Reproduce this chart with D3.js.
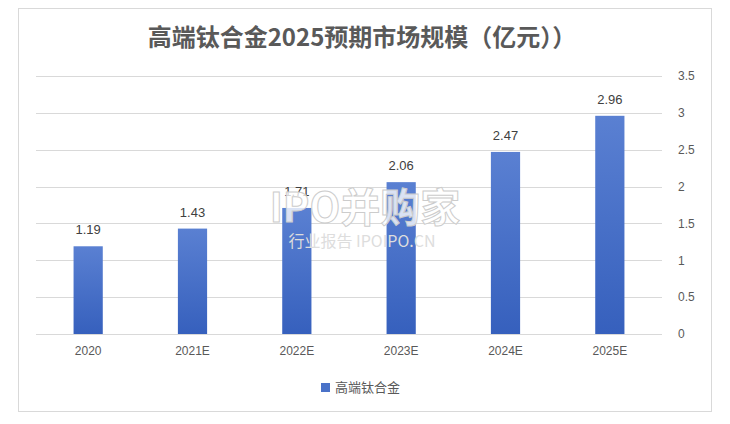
<!DOCTYPE html>
<html><head><meta charset="utf-8">
<script src="https://cdn.jsdelivr.net/npm/d3@7"></script>
<style>body{margin:0;background:#fff;font-family:"Noto Sans CJK SC","Noto Sans",sans-serif;}</style>
</head><body>
<svg id="chart" width="730" height="424"></svg>
<script>
const categories = ["2020", "2021E", "2022E", "2023E", "2024E", "2025E"];
const values = [1.19, 1.43, 1.71, 2.06, 2.47, 2.96];
const yTicks = [0, 0.5, 1, 1.5, 2, 2.5, 3, 3.5];
const seriesName = "高端钛合金";

const svg = d3.select("#chart");
const plotLeft = 36, plotRight = 672, plotTop = 76, plotBottom = 334;

svg.append("rect").attr("x", 18.5).attr("y", 8.5).attr("width", 693).attr("height", 403)
	.attr("fill", "#fff").attr("stroke", "#d9d9d9");

svg.append("text").attr("x", 362).attr("y", 46).attr("text-anchor", "middle")
	.attr("font-size", 24).attr("font-weight", "bold").attr("fill", "#595959")
	.text("高端钛合金2025预期市场规模（亿元））");

const defs = svg.append("defs");
const grad = defs.append("linearGradient").attr("id", "barGrad").attr("x1", 0).attr("y1", 0).attr("x2", 0).attr("y2", 1);
grad.append("stop").attr("offset", "0%").attr("stop-color", "#5a80d2");
grad.append("stop").attr("offset", "100%").attr("stop-color", "#3660bd");

const x = d3.scaleBand().domain(categories).range([plotLeft, plotRight - 10]).paddingInner(0.72).paddingOuter(0.36);
const y = d3.scaleLinear().domain([0, 3.5]).range([plotBottom, plotTop]);

svg.append("g").selectAll("line").data(yTicks).join("line")
	.attr("x1", plotLeft).attr("x2", plotRight - 10)
	.attr("y1", d => Math.round(y(d)) + 0.5).attr("y2", d => Math.round(y(d)) + 0.5)
	.attr("stroke", "#d9d9d9");

const yAxis = svg.append("g").attr("transform", `translate(${plotRight},0)`)
	.call(d3.axisRight(y).tickValues(yTicks).tickFormat(d => String(d)).tickSize(0).tickPadding(6));
yAxis.select(".domain").remove();
yAxis.selectAll("text").attr("font-size", 12).attr("fill", "#595959").attr("font-family", "Liberation Sans, sans-serif");

svg.append("g").selectAll("rect").data(values).join("rect")
	.attr("x", (d, i) => x(categories[i])).attr("width", x.bandwidth())
	.attr("y", d => y(d)).attr("height", d => plotBottom - y(d))
	.attr("fill", "url(#barGrad)");

svg.append("g").selectAll("text").data(values).join("text")
	.attr("x", (d, i) => x(categories[i]) + x.bandwidth() / 2).attr("y", d => y(d) - 12)
	.attr("text-anchor", "middle").attr("font-size", 13).attr("fill", "#404040")
	.attr("font-family", "Liberation Sans, sans-serif").text(d => d.toFixed(2));

const xAxis = svg.append("g").attr("transform", `translate(0,${plotBottom})`)
	.call(d3.axisBottom(x).tickSize(0).tickPadding(12));
xAxis.select(".domain").remove();
xAxis.selectAll("text").attr("font-size", 12).attr("fill", "#595959").attr("font-family", "Liberation Sans, sans-serif");

// watermark
svg.append("text").attr("x", 365).attr("y", 222).attr("text-anchor", "middle")
	.attr("font-size", 40).attr("font-weight", "bold").attr("fill", "#ffffff").attr("fill-opacity", 0.8)
	.attr("stroke", "#cccccc").attr("stroke-width", 1).text("IPO并购家");
svg.append("text").attr("x", 362).attr("y", 247).attr("text-anchor", "middle")
	.attr("font-size", 16).attr("fill", "#dddddd").text("行业报告 IPOIPO.CN");

// legend
svg.append("rect").attr("x", 321).attr("y", 383).attr("width", 9).attr("height", 9).attr("fill", "#4a72c8");
svg.append("text").attr("x", 335).attr("y", 392).attr("font-size", 13).attr("fill", "#595959").text(seriesName);
</script>
</body></html>
